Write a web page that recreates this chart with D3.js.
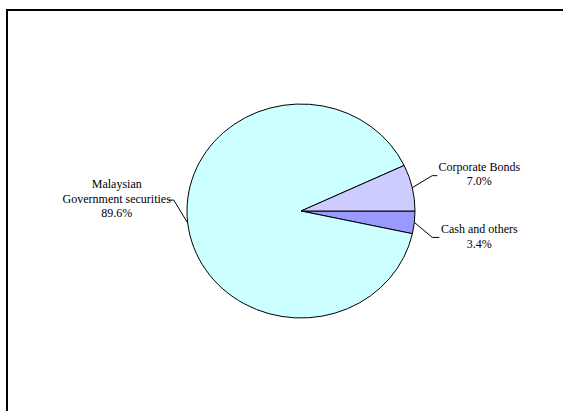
<!DOCTYPE html>
<html>
<head>
<meta charset="utf-8">
<script src="https://cdn.jsdelivr.net/npm/d3@7"></script>
<style>
  html, body { margin: 0; padding: 0; background: #fff; }
  svg { display: block; }
</style>
</head>
<body>
<div id="chart"></div>
<script>
// Slices in drawing order, clockwise from 3 o'clock
const categories = ["Cash and others", "Malaysian Government securities", "Corporate Bonds"]
const values = [3.4, 89.6, 7.0]
const labelLines = [["Cash and others"], ["Malaysian", "Government securities"], ["Corporate Bonds"]]
const colors = ["#9999ff", "#ccffff", "#ccccff"]

const width = 563
const height = 411
const cx = 301, cy = 211
const rx = 114, ry = 107

// leader elbow offsets and text anchor offsets (from the slice edge point)
const leader = [
  { elbow: [18, 15], end: [25, 15], text: [65, 11] },
  { elbow: [-14, -23], end: [-19, -23], text: [-71, -35] },
  { elbow: [20, -12], end: [25, -12], text: [67, -17] }
]

const svg = d3.select("#chart").append("svg")
  .attr("width", width).attr("height", height)

// chart area border (runs off the right and bottom)
svg.append("rect")
  .attr("x", 7).attr("y", 10)
  .attr("width", 700).attr("height", 600)
  .attr("fill", "none").attr("stroke", "#000").attr("stroke-width", 2)

const data = categories.map((c, i) => ({ name: c, value: values[i], lines: labelLines[i], color: colors[i], i }))

const pie = d3.pie().sort(null).value(d => d.value)
  .startAngle(Math.PI / 2).endAngle(Math.PI / 2 + 2 * Math.PI)
const arcs = pie(data)
const arc = d3.arc().innerRadius(0).outerRadius(rx)

const g = svg.append("g")
  .attr("transform", `translate(${cx},${cy}) scale(1,${ry / rx})`)

g.selectAll("path")
  .data(arcs)
  .join("path")
  .attr("d", arc)
  .attr("fill", d => d.data.color)
  .attr("stroke", "#000")
  .attr("stroke-width", 1)
  .attr("vector-effect", "non-scaling-stroke")

const fmt = d3.format(".1f")

arcs.forEach(a => {
  const mid = (a.startAngle + a.endAngle) / 2
  const px = cx + rx * Math.sin(mid)
  const py = cy - ry * Math.cos(mid)
  const L = leader[a.data.i]
  svg.append("polyline")
    .attr("points", [[px, py], [px + L.elbow[0], py + L.elbow[1]], [px + L.end[0], py + L.end[1]]].map(p => p.join(",")).join(" "))
    .attr("fill", "none").attr("stroke", "#000").attr("stroke-width", 1)

  const lines = a.data.lines.concat([fmt(a.data.value) + "%"])
  const t = svg.append("text")
    .attr("x", px + L.text[0]).attr("y", py + L.text[1])
    .attr("text-anchor", "middle")
    .attr("font-family", "'Liberation Serif', 'Times New Roman', serif")
    .attr("font-size", 12).attr("fill", "#000")
  lines.forEach((s, k) => {
    t.append("tspan").attr("x", px + L.text[0]).attr("dy", k === 0 ? 0 : 14.5).text(s)
  })
})
</script>
</body>
</html>
